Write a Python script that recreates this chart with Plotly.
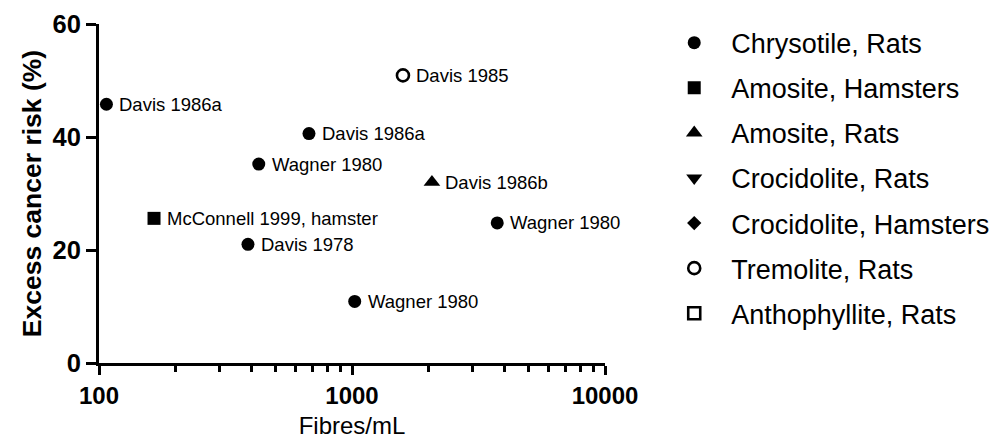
import numpy as np
import plotly.graph_objects as go

# ---- data ----
categories = ["Chrysotile, Rats", "Amosite, Hamsters", "Amosite, Rats",
              "Crocidolite, Rats", "Crocidolite, Hamsters", "Tremolite, Rats",
              "Anthophyllite, Rats"]

chrysotile_rats_x = [107, 676, 428, 388, 1025, 3750]
chrysotile_rats_y = [45.8, 40.6, 35.2, 21.0, 10.9, 24.8]
chrysotile_rats_lbl = ["Davis 1986a", "Davis 1986a", "Wagner 1980", "Davis 1978",
                       "Wagner 1980", "Wagner 1980"]

amosite_hamsters_x = [165]
amosite_hamsters_y = [25.6]
amosite_hamsters_lbl = ["McConnell 1999, hamster"]

amosite_rats_x = [2070]
amosite_rats_y = [32.0]
amosite_rats_lbl = ["Davis 1986b"]

crocidolite_rats_x = []
crocidolite_rats_y = []
crocidolite_hamsters_x = []
crocidolite_hamsters_y = []

tremolite_rats_x = [1590]
tremolite_rats_y = [50.9]
tremolite_rats_lbl = ["Davis 1985"]

anthophyllite_rats_x = []
anthophyllite_rats_y = []

x_major = [100, 1000, 10000]
x_major_text = ["100", "1000", "10000"]
y_ticks = [0, 20, 40, 60]

FONT = "Liberation Sans, Arial, Helvetica, sans-serif"

series = [
    (categories[0], chrysotile_rats_x, chrysotile_rats_y, dict(symbol="circle", size=13, color="black")),
    (categories[1], amosite_hamsters_x, amosite_hamsters_y, dict(symbol="square", size=13, color="black")),
    (categories[2], amosite_rats_x, amosite_rats_y, dict(symbol="triangle-up", size=14.5, color="black")),
    (categories[3], crocidolite_rats_x, crocidolite_rats_y, dict(symbol="triangle-down", size=14, color="black")),
    (categories[4], crocidolite_hamsters_x, crocidolite_hamsters_y, dict(symbol="diamond", size=11, color="black")),
    (categories[5], tremolite_rats_x, tremolite_rats_y, dict(symbol="circle-open", size=12, color="black", line=dict(width=2.6, color="black"))),
    (categories[6], anthophyllite_rats_x, anthophyllite_rats_y, dict(symbol="square-open", size=12, color="black", line=dict(width=2.6, color="black"))),
]

fig = go.Figure()
for i, (name, xs, ys, mk) in enumerate(series):
    fig.add_trace(go.Scatter(
        x=xs if xs else [None], y=ys if ys else [None], mode="markers",
        name=name, marker=mk, legendgroup=f"g{i}", cliponaxis=False,
        hoverinfo="skip"))

annots = []
for xs, ys, lbls in [(chrysotile_rats_x, chrysotile_rats_y, chrysotile_rats_lbl),
                     (amosite_hamsters_x, amosite_hamsters_y, amosite_hamsters_lbl),
                     (amosite_rats_x, amosite_rats_y, amosite_rats_lbl),
                     (tremolite_rats_x, tremolite_rats_y, tremolite_rats_lbl)]:
    for xv, yv, t in zip(xs, ys, lbls):
        annots.append(dict(x=np.log10(xv), y=yv, xref="x", yref="y", text=t,
                           showarrow=False, xanchor="left", yanchor="middle",
                           xshift=11, font=dict(family=FONT, size=18.5, color="black")))

minor_vals = [m * d for d in (100, 1000) for m in range(2, 10)]

fig.update_layout(
    width=1005, height=442,
    margin=dict(l=91, r=408, t=16, b=87),
    paper_bgcolor="white", plot_bgcolor="white",
    font=dict(family=FONT, color="black"),
    showlegend=True,
    legend=dict(xref="container", yref="container", x=0.646, y=0.976,
                xanchor="left", yanchor="top", traceorder="grouped",
                tracegroupgap=7, itemwidth=64, maxheight=440,
                font=dict(family=FONT, size=27, color="black"),
                bgcolor="rgba(0,0,0,0)", itemsizing="trace"),
    annotations=annots,
)

fig.update_xaxes(
    type="log", range=[2, 4], showgrid=False, zeroline=False,
    showline=True, linewidth=3, linecolor="black",
    ticks="outside", ticklen=9, tickwidth=2.5, tickcolor="black",
    tickvals=x_major, ticktext=x_major_text,
    tickfont=dict(family=FONT, size=24, color="black", weight="bold"),
    minor=dict(tickvals=minor_vals, ticks="outside", ticklen=6, tickwidth=2.5, tickcolor="black", showgrid=False),
    title=dict(text="Fibres/mL", font=dict(family=FONT, size=24, color="black"), standoff=10),
    automargin=False,
)
fig.update_yaxes(
    range=[0, 60], showgrid=False, zeroline=False,
    showline=True, linewidth=3, linecolor="black",
    ticks="outside", ticklen=10, tickwidth=2.5, tickcolor="black",
    tickvals=y_ticks,
    tickfont=dict(family=FONT, size=25.5, color="black", weight="bold"),
    title=dict(text="Excess cancer risk (%)", font=dict(family=FONT, size=26.5, color="black", weight="bold"), standoff=4),
    automargin=False,
)

fig.write_html("out.html")
